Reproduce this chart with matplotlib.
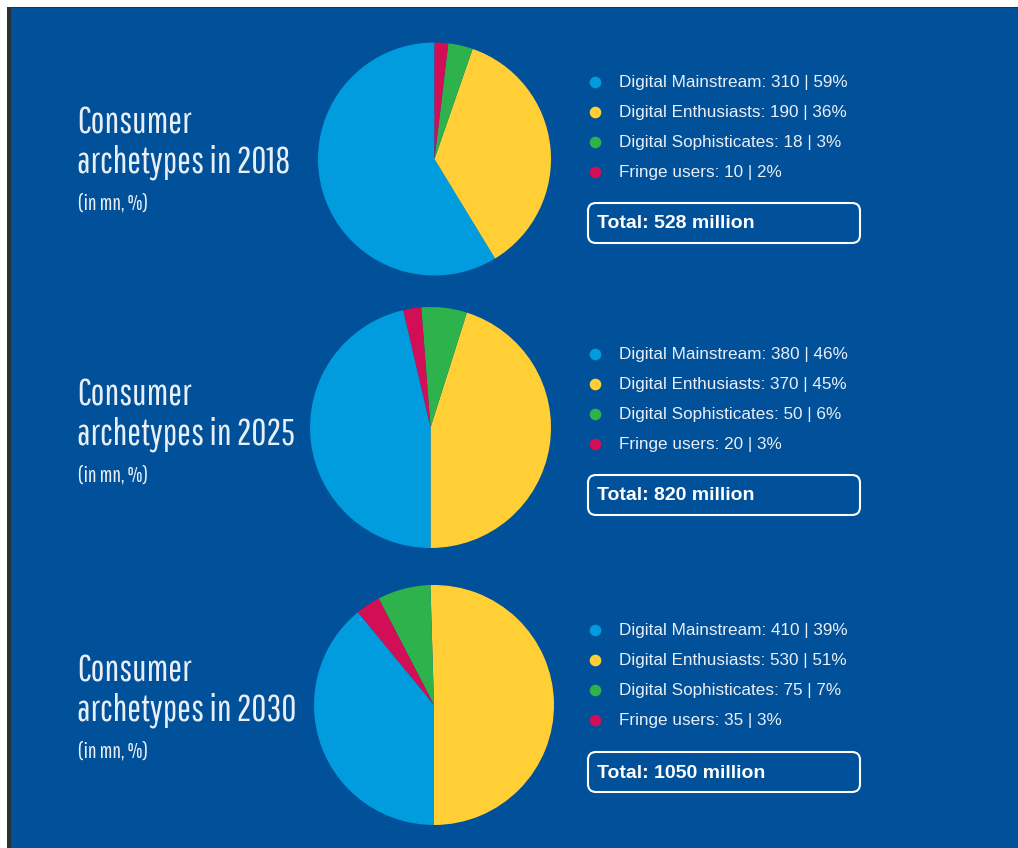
import numpy as np
import matplotlib
matplotlib.use("Agg")
import matplotlib.pyplot as plt
from matplotlib.patches import Rectangle, FancyBboxPatch

# data
years = ["2018", "2025", "2030"]
segments = ["Digital Mainstream", "Digital Enthusiasts", "Digital Sophisticates", "Fringe users"]
mainstream = [310, 380, 410]
enthusiasts = [190, 370, 530]
sophisticates = [18, 50, 75]
fringe = [10, 20, 35]
shares = [[59, 36, 3, 2], [46, 45, 6, 3], [39, 51, 7, 3]]
totals = [528, 820, 1050]

# styling
BG = "#01509A"
seg_colors = ["#009CDE", "#FFCF35", "#2EB24B", "#D20F56"]
TXT = "#E9EFF6"
TITLE_FONT = ["Pathway Gothic One", "Fira Sans Extra Condensed", "DejaVu Sans"]

# wedge order / start angle per pie, as drawn in the reference
pie_order = [[0, 1, 2, 3], [1, 2, 3, 0], [1, 2, 3, 0]]
pie_start = [90, -90, -90]

# layout in pixels (figure is 1018 x 848)
W, H = 1018, 848
pie_cx = [434.5, 430.5, 434]
pie_cy = [159, 427.5, 705]
pie_r = [116.5, 120.5, 120]
title_y = [133, 405, 681]
legend_y = [82, 354, 630]
box_y = [203, 475, 752]

plt.rcParams["font.family"] = ["Liberation Sans", "DejaVu Sans"]

fig = plt.figure(figsize=(W / 100, H / 100), dpi=100, facecolor="white")
bg = fig.add_axes([0, 0, 1, 1])
bg.set_xlim(0, W)
bg.set_ylim(H, 0)
bg.axis("off")

# panel with dark frame on left/top
bg.add_patch(Rectangle((7, 6.5), W, H, facecolor="#2b2f36", edgecolor="none"))
bg.add_patch(Rectangle((11, 8), W, H, facecolor=BG, edgecolor="none"))

values = np.array([mainstream, enthusiasts, sophisticates, fringe]).T

for i, year in enumerate(years):
    # pie
    cx, cy, r = pie_cx[i], pie_cy[i], pie_r[i]
    ax = fig.add_axes([(cx - r) / W, 1 - (cy + r) / H, 2 * r / W, 2 * r / H])
    order = pie_order[i]
    ax.pie([values[i][k] for k in order], colors=[seg_colors[k] for k in order],
           startangle=pie_start[i], counterclock=True,
           wedgeprops=dict(linewidth=0))
    ax.set_xlim(-1, 1)
    ax.set_ylim(-1, 1)
    ax.set_aspect("equal")
    ax.axis("off")

    # title on the left
    bg.text(77, title_y[i], "Consumer", family=TITLE_FONT,
            fontsize=26.5, color=TXT, va="baseline", ha="left")
    bg.text(77, title_y[i] + 39, "archetypes in " + year, family=TITLE_FONT,
            fontsize=26.5, color=TXT, va="baseline", ha="left")
    bg.text(78, title_y[i] + 76, "(in mn, %)", family=TITLE_FONT,
            fontsize=15.5, color=TXT, va="baseline", ha="left")

    # legend on the right
    for k, seg in enumerate(segments):
        y = legend_y[i] + 30 * k
        bg.scatter([595.5], [y], s=70, color=seg_colors[k], linewidths=0, zorder=3)
        bg.text(619, y, f"{seg}: {values[i][k]} | {shares[i][k]}%", fontsize=12.3,
                color=TXT, va="center", ha="left")

    # total box
    bg.add_patch(FancyBboxPatch((588, box_y[i]), 272, 40,
                                boxstyle="round,pad=0,rounding_size=8",
                                facecolor="none", edgecolor="white", linewidth=1.5))
    bg.text(597, box_y[i] + 21, f"Total: {totals[i]} million", fontsize=14,
            fontweight="bold", color="white", va="center", ha="left")

fig.savefig("out.png", dpi=100, facecolor="white")
